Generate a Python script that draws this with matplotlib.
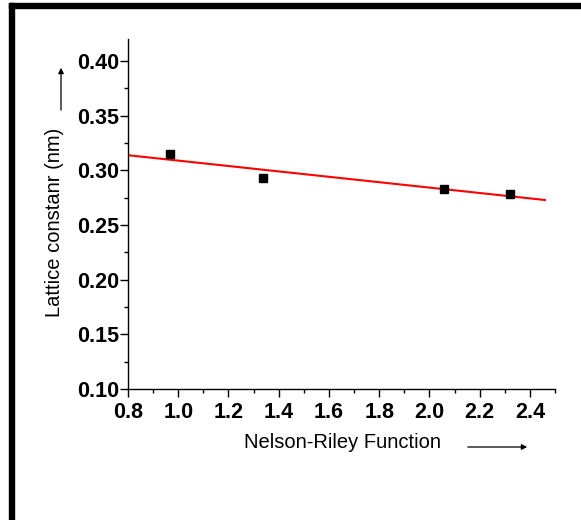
import matplotlib.pyplot as plt
from matplotlib.patches import Rectangle, FancyArrowPatch
from matplotlib.ticker import MultipleLocator
import numpy as np

plt.rcParams['font.family'] = ['Liberation Sans', 'DejaVu Sans']

# data
nr_func = [0.967, 1.338, 2.059, 2.322]
lattice = [0.315, 0.293, 0.283, 0.278]

W, H = 581, 520
fig = plt.figure(figsize=(W / 100, H / 100), dpi=100)
ax = fig.add_axes([128 / W, 1 - 389 / H, (555 - 128) / W, (389 - 39) / H])

ax.plot(nr_func, lattice, 's', color='black', ms=5.5, zorder=3)

# linear fit
k, b = np.polyfit(nr_func, lattice, 1)
xf = np.array([0.8, 2.46])
ax.plot(xf, k * xf + b, color='red', lw=1.5, zorder=2)

ax.set_xlim(0.8, 2.5)
ax.set_ylim(0.10, 0.42)
ax.xaxis.set_minor_locator(MultipleLocator(0.1))
ax.yaxis.set_minor_locator(MultipleLocator(0.025))
ax.set_xticks(np.arange(0.8, 2.41, 0.2))
ax.set_yticks(np.arange(0.10, 0.401, 0.05))
ax.xaxis.set_major_formatter(plt.FuncFormatter(lambda v, p: f'{v:.1f}'))
ax.yaxis.set_major_formatter(plt.FuncFormatter(lambda v, p: f'{v:.2f}'))

for s in ['top', 'right']:
    ax.spines[s].set_visible(False)
for s in ['left', 'bottom']:
    ax.spines[s].set_linewidth(1.0)

ax.tick_params(which='major', direction='out', length=5.5, width=1, labelsize=15.5)
ax.tick_params(axis='y', which='major', pad=1)
ax.tick_params(axis='x', which='major', pad=4)
ax.tick_params(which='minor', direction='out', length=3, width=1)
for lab in ax.get_xticklabels() + ax.get_yticklabels():
    lab.set_fontweight('bold')

fig.text(342 / W, 1 - 443 / H, 'Nelson-Riley Function', fontsize=14.5,
         ha='center', va='center')
fig.text(55 / W, 1 - 222 / H, 'Lattice constanr (nm)', fontsize=14.5,
         ha='center', va='center', rotation=90)

# arrows next to labels
fig.patches.append(FancyArrowPatch(
    (465 / W, 1 - 447 / H), (530 / W, 1 - 447 / H), transform=fig.transFigure,
    arrowstyle='-|>', mutation_scale=8, lw=0.9, color='black'))
fig.patches.append(FancyArrowPatch(
    (61 / W, 1 - 113 / H), (61 / W, 1 - 65 / H), transform=fig.transFigure,
    arrowstyle='-|>', mutation_scale=8, lw=0.9, color='black'))

# black frame at top and left
fig.patches.append(Rectangle((9 / W, 1 - 8 / H), 1 - 9 / W, 5 / H,
                             transform=fig.transFigure, color='black'))
fig.patches.append(Rectangle((9 / W, 0), 5 / W, 1 - 3 / H,
                             transform=fig.transFigure, color='black'))

fig.savefig('out.png', dpi=100)
